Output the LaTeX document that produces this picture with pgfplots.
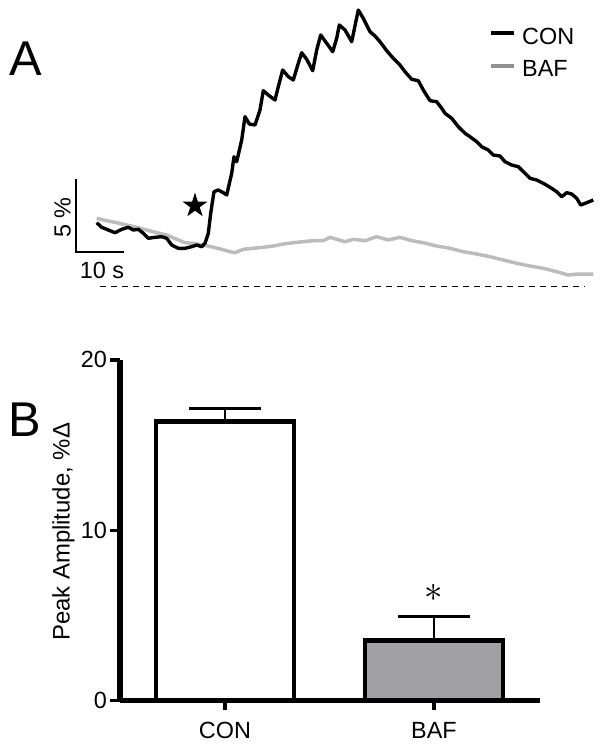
\documentclass[border=0pt]{standalone}
\usepackage{fontspec}
\setmainfont{Liberation Sans}
\usepackage{pgfplots}
\pgfplotsset{compat=1.18}
\usetikzlibrary{shapes.geometric}
\definecolor{baftrace}{RGB}{188,188,188}
\definecolor{baflegend}{RGB}{145,145,145}
\definecolor{baffill}{RGB}{160,160,165}

\begin{document}
\begin{tikzpicture}
\useasboundingbox (0,0) rectangle (604bp,-748bp);

% ---- panel A: traces (x in px, y in px from top) ----
\begin{axis}[
    at={(0,0)}, anchor=north west,
    x=1bp, y=1bp, y dir=reverse,
    xmin=0, xmax=604, ymin=0, ymax=300,
    hide axis, clip=false,
]
\addplot[baftrace, line width=3.5bp, line join=round] coordinates {
    (96.7,218.3) (106.7,220.7) (116.7,222.7) (126.7,225) (136.7,227.3)
    (146.7,230) (156.7,232.7) (166.7,235) (176.7,239.3) (185,242.7)
    (193.3,243.3) (203.3,245) (213.3,247.3) (221.7,249.3) (230,251.7)
    (235,252.7) (243.3,249.3) (253.3,248.3) (263.3,247.3) (273.3,246)
    (283.3,244) (293.3,242.7) (303.3,241.7) (313.3,240.7) (323.3,240.7)
    (330,237.3) (336.7,239.3) (345,241.7) (353.3,239.3) (365,240.7)
    (376.7,236.7) (388.3,240) (400,237.3) (411.7,240.7) (423.3,242.7)
    (436.7,246) (450,248.3) (463.3,251.7) (476.7,254) (490,256.7)
    (503.3,260) (516.7,263.3) (530,266) (543.3,268.3) (556.7,271.7)
    (568.3,275) (578.3,274) (593.3,274)
};
\addplot[black, line width=3.4bp, line join=round] coordinates {
    (96.7,222.7) (101.7,227.3) (108.3,230) (115,232.7) (121.7,229.3)
    (128.3,227.3) (133.3,230) (138.3,229.3) (143.3,233.3) (148.3,238.3)
    (155,237.3) (161.7,236.7) (166.7,238.3) (171.7,245) (178.3,248.3)
    (185,248.3) (191.7,246.7) (196.7,245) (201.7,246.7) (205,243.3)
    (208.3,233.3) (210.7,213.3) (214,191.7) (218.3,190) (223.3,192.7)
    (226.7,195) (231.7,173.3) (234,156.7) (236.7,161.7) (241.7,140)
    (245,116.7) (249.3,124) (255,125) (260,110) (263.3,90.7)
    (268.3,95) (275,100) (278.3,86.7) (282.7,70) (288.3,76.7)
    (293.3,80) (298.3,63.3) (301.7,52.7) (306.7,59.3) (312.7,70.7)
    (316.7,50) (320.7,35) (326.7,43.3) (332.7,51.7) (336.7,38.3)
    (339.3,25) (345,30) (351.7,41.7) (358.3,10) (363.3,18.3)
    (370,31.7) (375,36) (380,41.7) (386.7,50.7) (393.3,58.3)
    (400,65) (405,71.7) (411.7,79.3) (418.3,80.7) (423.3,90)
    (430,100.7) (436.7,101.7) (441.7,108.3) (445,113.3) (451.7,118.3)
    (458.3,126.7) (465,133.3) (470,136.7) (476.7,141.7) (481.7,146.7)
    (488.3,150) (493.3,155) (500,156) (505,161.7) (511.7,165)
    (518.3,166.7) (525,173.3) (530,178.3) (536.7,180) (543.3,183.3)
    (550,187.3) (556.7,191.7) (561.7,196.7) (566.7,192.7) (571.7,194)
    (576.7,198.3) (580.7,205) (586.7,202.7) (593.3,200)
};

% legend
\draw[black, line width=3.8bp] (axis cs:491,33.3) -- (axis cs:514,33.3);
\draw[baflegend, line width=3.8bp] (axis cs:491,66) -- (axis cs:514,66);
\node[anchor=west, inner sep=0pt, font=\fontsize{23.5}{23.5}\selectfont] at (axis cs:522,36.7) {CON};
\node[anchor=west, inner sep=0pt, font=\fontsize{23.5}{23.5}\selectfont] at (axis cs:522,68.7) {BAF};

% scale bars and baseline
\draw[line width=1.5bp] (axis cs:76,179) -- (axis cs:76,252) -- (axis cs:124,252);
\node[rotate=90, inner sep=0pt, font=\fontsize{23.5}{23.5}\selectfont] at (axis cs:62.5,217.5) {5 \%};
\node[inner sep=0pt, font=\fontsize{23.5}{23.5}\selectfont] at (axis cs:102,270.5) {10 s};
\draw[line width=1.3bp, dash pattern=on 6bp off 5bp] (axis cs:100,286.5) -- (axis cs:585,286.5);

% stimulus star
\node[star, star points=5, star point ratio=2.6, fill=black, inner sep=0pt,
      minimum size=26bp] at (axis cs:195,205.7) {};
\end{axis}

\node[font=\fontsize{49}{49}\selectfont] at (26bp,-58.5bp) {A};
\node[font=\fontsize{49}{49}\selectfont] at (25bp,-420bp) {B};

% ---- panel B: bar chart ----
\begin{axis}[
    at={(120bp,-700.5bp)}, anchor=south west,
    x=209bp, y=17.03bp,
    xmin=0.4976, xmax=2.507, ymin=0, ymax=20,
    axis x line=bottom, axis y line=left,
    axis line style={line width=5bp, -},
    xtick={1,2}, xticklabels={CON,BAF},
    ytick={0,10,20},
    tick align=outside,
    major tick length=9.5bp,
    every tick/.style={black, line width=3.2bp},
    tick label style={font=\fontsize{23.5}{23.5}\selectfont},
    xticklabel style={yshift=-9bp},
    /pgf/number format/assume math mode=true,
    ylabel={Peak Amplitude, \%Δ},
    every axis y label/.style={at={(axis description cs:-0.1345,0.495)},
        rotate=90, anchor=center, font=\fontsize{24}{24}\selectfont},
    clip=false,
]
\addplot[ybar, bar width=138bp, bar shift=0pt, draw=black, line width=4.6bp,
    fill=white,
    error bars/.cd, y dir=plus, y explicit, error mark=-,
    error bar style={line width=2.2bp, black},
    error mark options={rotate=90, line width=3bp, mark size=36bp, black}]
    coordinates {(1,16.37) +- (0,0.75)};
\addplot[ybar, bar width=138bp, bar shift=0pt, draw=black, line width=4.6bp,
    fill=baffill,
    error bars/.cd, y dir=plus, y explicit, error mark=-,
    error bar style={line width=2.2bp, black},
    error mark options={rotate=90, line width=3bp, mark size=36bp, black}]
    coordinates {(2,3.51) +- (0,1.45)};
\node at (axis cs:2,6.3) {\scalebox{3.7}{$\ast$}};
\end{axis}
\end{tikzpicture}
\end{document}
